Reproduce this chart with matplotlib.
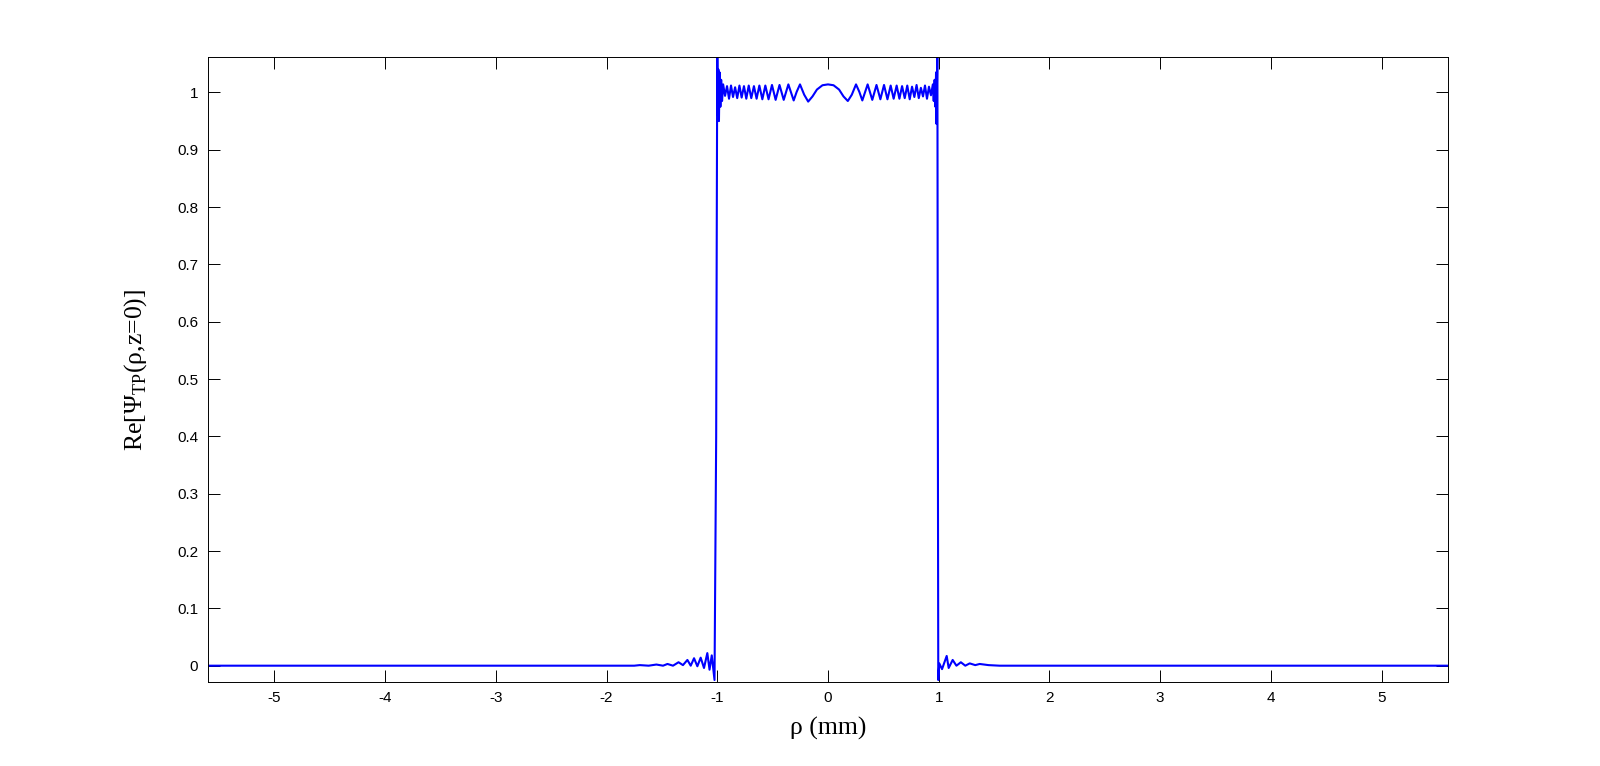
import matplotlib
matplotlib.use('Agg')
import matplotlib.pyplot as plt

# radial position (mm) and Re[Psi] values
rho = [-5.600, -1.750, -1.700, -1.620, -1.550, -1.490, -1.450, -1.400, -1.350, -1.310,
       -1.270, -1.240, -1.210, -1.180, -1.150, -1.120, -1.090, -1.070, -1.050, -1.025,
       -1.010, -1.000, -0.995, -0.990, -0.985, -0.979, -0.972, -0.965, -0.957, -0.947,
       -0.930, -0.912, -0.894, -0.876, -0.858, -0.839, -0.820, -0.800, -0.780, -0.759,
       -0.738, -0.716, -0.693, -0.669, -0.645, -0.620, -0.593, -0.566, -0.537, -0.506,
       -0.473, -0.438, -0.400, -0.358, -0.310, -0.283, -0.253, -0.215, -0.179, -0.140,
       -0.100, -0.050, 0.000, 0.050, 0.100, 0.140, 0.179, 0.215, 0.253, 0.283,
       0.310, 0.358, 0.400, 0.438, 0.473, 0.506, 0.537, 0.566, 0.593, 0.620,
       0.645, 0.669, 0.693, 0.716, 0.738, 0.759, 0.780, 0.800, 0.820, 0.839,
       0.858, 0.876, 0.894, 0.912, 0.930, 0.947, 0.955, 0.963, 0.970, 0.976,
       0.980, 0.985, 0.988, 0.992, 0.996, 1.005, 1.030, 1.072, 1.090, 1.126,
       1.160, 1.200, 1.240, 1.280, 1.330, 1.370, 1.450, 1.550, 5.600]
psi = [0.000, 0.000, 0.001, 0.000, 0.002, 0.000, 0.003, 0.000, 0.006, 0.001,
       0.010, 0.000, 0.013, -0.001, 0.014, -0.004, 0.022, -0.007, 0.018, -0.025,
       0.400, 1.090, 0.960, 1.040, 0.950, 1.035, 0.975, 1.022, 0.985, 1.014,
       0.994, 1.011, 0.989, 1.012, 0.992, 1.009, 0.990, 1.012, 0.991, 1.011,
       0.989, 1.012, 0.990, 1.011, 0.989, 1.012, 0.988, 1.012, 0.988, 1.013,
       0.987, 1.013, 0.987, 1.014, 0.986, 1.001, 1.014, 0.996, 0.984, 0.993,
       1.005, 1.0125, 1.014, 1.0125, 1.005, 0.993, 0.985, 0.996, 1.014, 1.001,
       0.986, 1.014, 0.987, 1.013, 0.988, 1.013, 0.988, 1.012, 0.989, 1.012,
       0.989, 1.011, 0.990, 1.012, 0.988, 1.010, 0.992, 1.013, 0.990, 1.008,
       0.993, 1.012, 0.989, 1.010, 0.995, 1.014, 0.985, 1.022, 0.975, 1.035,
       0.945, 1.030, 1.090, 0.450, -0.025, 0.004, -0.006, 0.017, -0.004, 0.010,
       0.000, 0.006, 0.000, 0.004, 0.001, 0.003, 0.001, 0.000, 0.000]

xticks = [-5, -4, -3, -2, -1, 0, 1, 2, 3, 4, 5]
yticks = [0, 0.1, 0.2, 0.3, 0.4, 0.5, 0.6, 0.7, 0.8, 0.9, 1]
ytick_labels = ['0', '0.1', '0.2', '0.3', '0.4', '0.5', '0.6', '0.7', '0.8', '0.9', '1']

plt.rcParams['font.family'] = ['Liberation Sans', 'DejaVu Sans']
plt.rcParams['axes.unicode_minus'] = False
plt.rcParams['mathtext.fontset'] = 'custom'
plt.rcParams['mathtext.rm'] = 'Liberation Serif'

fig = plt.figure(figsize=(16, 7.66), dpi=100)
ax = fig.add_axes([0.13, 0.11, 0.775, 0.815])
ax.plot(rho, psi, color='#0000ff', linewidth=1.5)

ax.set_xlim(-5.6, 5.6)
ax.set_ylim(-0.028, 1.061)
ax.set_xticks(xticks)
ax.set_yticks(yticks)
ax.set_yticklabels(ytick_labels)
ax.tick_params(direction='in', length=8.5, width=0.7, top=True, right=True,
               labelsize=11, pad=7)
for s in ax.spines.values():
    s.set_linewidth(0.7)

ax.set_xlabel('ρ (mm)', fontsize=18.5, family='Liberation Serif', labelpad=8)
ax.set_ylabel(r'Re[Ψ$_{\mathrm{TP}}$(ρ,z=0)]', fontsize=18.5, family='Liberation Serif', labelpad=20)

fig.savefig('out.png', dpi=100, facecolor='white')
